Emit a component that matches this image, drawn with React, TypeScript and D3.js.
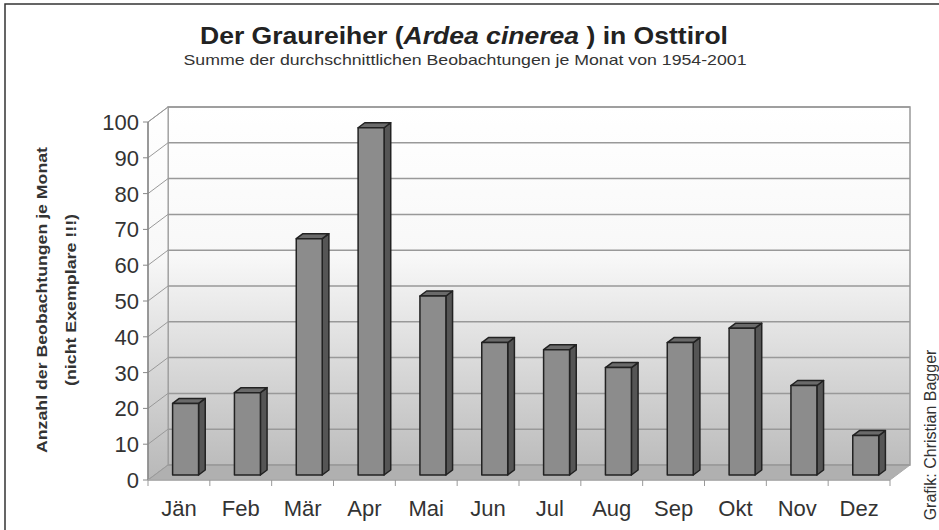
import React from 'react';
import * as d3 from 'd3';

const months = ['Jän', 'Feb', 'Mär', 'Apr', 'Mai', 'Jun', 'Jul', 'Aug', 'Sep', 'Okt', 'Nov', 'Dez'];
const sightings = [20, 23, 66, 97, 50, 37, 35, 30, 37, 41, 25, 11];
const yTicks = [0, 10, 20, 30, 40, 50, 60, 70, 80, 90, 100];

const W = 939;
const H = 530;
const FONT = '"Liberation Sans", Arial, sans-serif';

// front plane of the 3d box and the depth offset to the back wall
const frontLeft = 148;
const frontRight = 890;
const depthX = 20;
const depthY = -15;

const App = () => {
  const x = d3.scaleBand<string>().domain(months).range([frontLeft, frontRight]).padding(0);
  const y = d3.scaleLinear().domain([0, 100]).range([480, 122]);

  const bw = x.bandwidth() * 0.42;
  // bars sit between 1/3 and 2/3 of the depth
  const bx = depthX / 3;
  const by = depthY / 3;

  const backLeft = frontLeft + depthX;
  const backRight = frontRight + depthX;
  const backTop = y(100) + depthY;
  const backBottom = y(0) + depthY;

  const pts = (p: number[][]) => p.map(d => d.join(',')).join(' ');

  return (
    <svg width={W} height={H} style={{ position: 'absolute', left: 0, top: 0, background: '#fff' }}>
      <defs>
        <linearGradient id="wall" x1="0" y1={backTop} x2="0" y2={y(0)} gradientUnits="userSpaceOnUse">
          <stop offset="0" stopColor="#ffffff" />
          <stop offset="0.4" stopColor="#f8f8f8" />
          <stop offset="1" stopColor="#b8b8b8" />
        </linearGradient>
      </defs>

      {/* frame */}
      <rect x={5} y={4} width={W} height={H} fill="none" stroke="#333" strokeWidth={1.5} />

      {/* titles */}
      <text x={464} y={44} textAnchor="middle" fontFamily={FONT} fontSize={24} fontWeight="bold" fill="#222"
        textLength={528} lengthAdjust="spacingAndGlyphs">
        Der Graureiher (<tspan fontStyle="italic">Ardea cinerea</tspan> ) in Osttirol
      </text>
      <text x={465} y={65} textAnchor="middle" fontFamily={FONT} fontSize={15} fill="#333"
        textLength={563} lengthAdjust="spacingAndGlyphs">
        Summe der durchschnittlichen Beobachtungen je Monat von 1954-2001
      </text>

      {/* back wall */}
      <rect x={backLeft} y={backTop} width={backRight - backLeft} height={backBottom - backTop}
        fill="url(#wall)" stroke="#999" strokeWidth={1.5} />
      {/* side wall */}
      <polygon
        points={pts([[frontLeft, y(100)], [backLeft, backTop], [backLeft, backBottom], [frontLeft, y(0)]])}
        fill="url(#wall)" stroke="#999" strokeWidth={1} />
      {/* floor */}
      <polygon
        points={pts([[frontLeft, y(0)], [frontRight, y(0)], [backRight, backBottom], [backLeft, backBottom]])}
        fill="#b0b0b0" stroke="#aaa" strokeWidth={1} />

      {/* gridlines */}
      {yTicks.map(t => (
        <g key={t}>
          <line x1={backLeft} x2={backRight} y1={y(t) + depthY} y2={y(t) + depthY} stroke="#999" strokeWidth={1.5} />
          <line x1={frontLeft} x2={backLeft} y1={y(t)} y2={y(t) + depthY} stroke="#999" strokeWidth={1} />
          <line x1={frontLeft - 5} x2={frontLeft} y1={y(t)} y2={y(t)} stroke="#888" strokeWidth={1} />
          <text x={139} y={y(t) + 8} textAnchor="end" fontFamily={FONT} fontSize={22} fill="#333">{t}</text>
        </g>
      ))}

      {/* axes */}
      <line x1={frontLeft} x2={frontLeft} y1={y(100)} y2={y(0)} stroke="#888" strokeWidth={1.5} />
      <line x1={frontLeft} x2={frontRight} y1={y(0)} y2={y(0)} stroke="#aaa" strokeWidth={1.5} />
      {months.map(m => (
        <line key={'t' + m} x1={(x(m) ?? 0)} x2={(x(m) ?? 0)} y1={y(0)} y2={y(0) + 6} stroke="#999" strokeWidth={1} />
      ))}
      <line x1={frontRight} x2={frontRight} y1={y(0)} y2={y(0) + 6} stroke="#999" strokeWidth={1} />

      {/* bars */}
      {months.map((m, i) => {
        const cx = (x(m) ?? 0) + x.bandwidth() / 2 + bx;
        const x0 = cx - bw / 2;
        const x1 = cx + bw / 2;
        const yt = y(sightings[i]) + by;
        const yb = y(0) + by;
        return (
          <g key={m} stroke="#222" strokeWidth={1.5} strokeLinejoin="round">
            <polygon points={pts([[x1, yt], [x1 + bx, yt + by], [x1 + bx, yb + by], [x1, yb]])} fill="#555" />
            <polygon points={pts([[x0, yt], [x1, yt], [x1 + bx, yt + by], [x0 + bx, yt + by]])} fill="#6a6a6a" />
            <rect x={x0} y={yt} width={bw} height={yb - yt} fill="#8c8c8c" />
          </g>
        );
      })}

      {/* month labels */}
      {months.map(m => (
        <text key={'l' + m} x={(x(m) ?? 0) + x.bandwidth() / 2} y={516} textAnchor="middle"
          fontFamily={FONT} fontSize={22} fill="#333">{m}</text>
      ))}

      {/* y axis title */}
      <g transform="translate(47,300) rotate(-90)">
        <text x={0} y={0} textAnchor="middle" fontFamily={FONT} fontSize={14} fontWeight="bold" fill="#333"
          textLength={306} lengthAdjust="spacingAndGlyphs">
          Anzahl der Beobachtungen je Monat
        </text>
        <text x={0} y={29} textAnchor="middle" fontFamily={FONT} fontSize={14} fontWeight="bold" fill="#333"
          textLength={172} lengthAdjust="spacingAndGlyphs">
          (nicht Exemplare !!!)
        </text>
      </g>

      {/* credit */}
      <text transform="translate(936,435) rotate(-90)" textAnchor="middle" fontFamily={FONT} fontSize={16} fill="#333">
        Grafik: Christian Bagger
      </text>
    </svg>
  );
};

export default App;
